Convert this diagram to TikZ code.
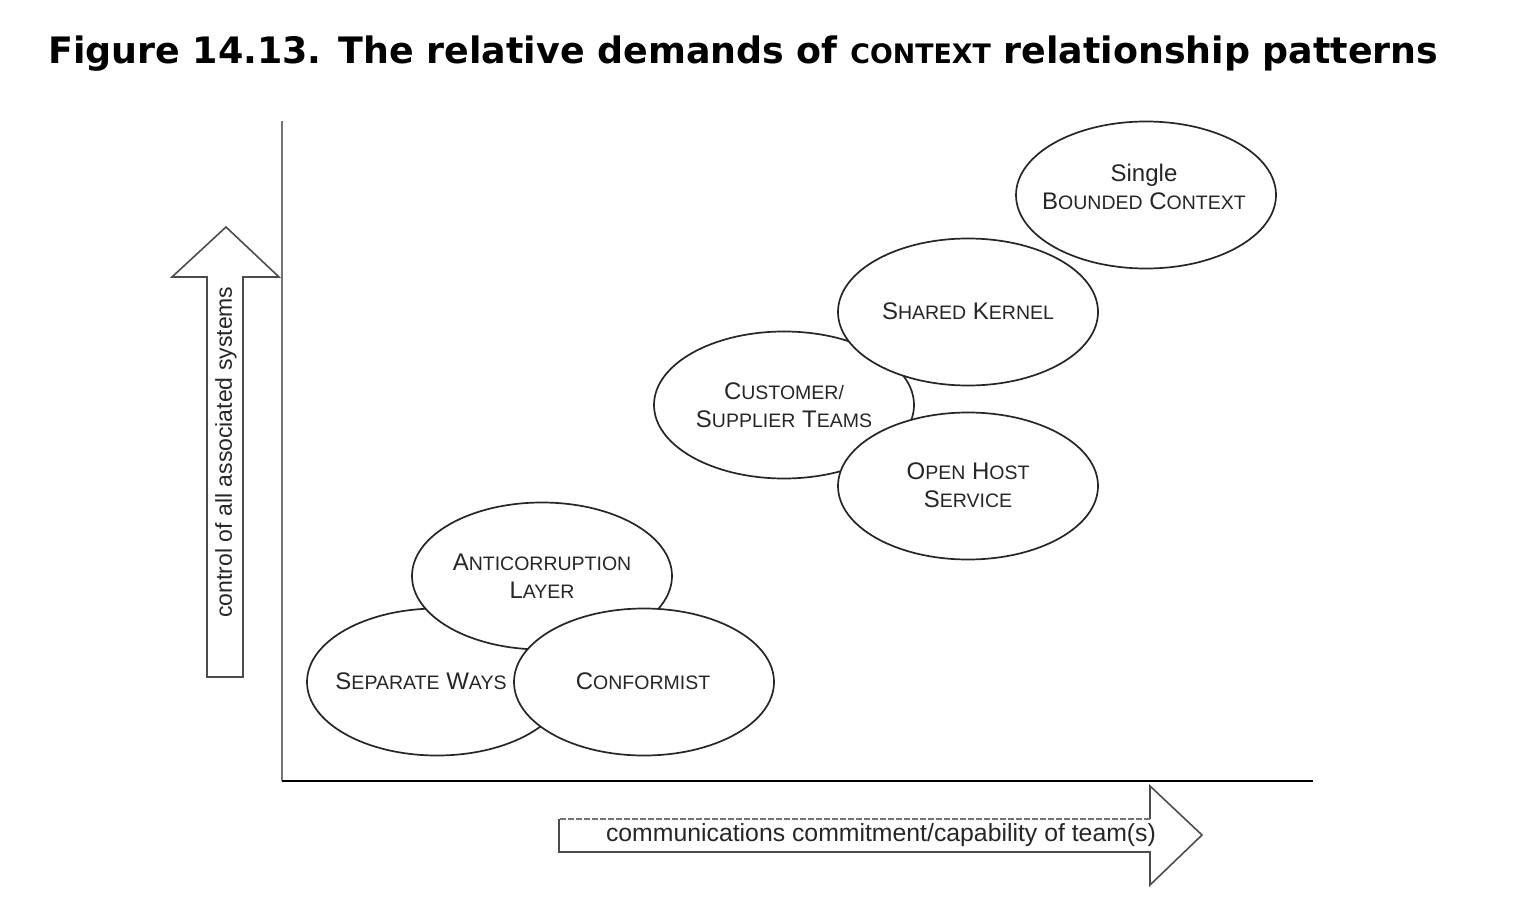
\documentclass[tikz,border=0pt]{standalone}
\usepackage{fontspec}
\setmainfont{Liberation Sans}
\newfontfamily\titlefont{DejaVu Sans}
\usetikzlibrary{shapes.geometric}
\newcommand\mysc[2]{{\fontsize{24}{28}\selectfont #1}{\fontsize{19.5}{28}\selectfont #2}}
\tikzset{
  ell/.style={ellipse, draw=black!85, line width=1.7pt, fill=white,
    minimum width=260pt, minimum height=147pt, inner sep=0pt},
  lbl/.style={align=center, inner sep=0pt, text=black!85,
    font=\fontsize{24}{28}\selectfont},
  axlbl/.style={inner sep=0pt, text=black!85},
  blockarrow/.style={draw=black!70, line width=1.6pt, line join=miter},
}
\begin{document}
\begin{tikzpicture}[x=1pt,y=-1pt]
\useasboundingbox (0,0) rectangle (1537,915);
% title
\node[anchor=base west, inner sep=0pt, font=\titlefont\bfseries\fontsize{36.4}{40}\selectfont] (title) at (48,64)
  {Figure 14.13. The relative demands of {\fontsize{26.8}{40}\selectfont CONTEXT} relationship patterns};
% axes
\coordinate (origin) at (282,781);
\coordinate (ytop) at (282,121);
\coordinate (xend) at (1313,781);
\draw[black!55, line width=2.8pt] (ytop) -- (origin);
\draw[black, line width=2.4pt] (origin) -- (xend);
% up arrow
\draw[blockarrow] (207,677) -- (207,277) -- (172,277) -- (226,227) -- (279,277) -- (243,277) -- (243,677) -- cycle;
\node[axlbl, rotate=90, font=\fontsize{23}{26}\selectfont] (ylab) at (226,452) {control of all associated systems};
% right arrow
\draw[blockarrow] (559,819) -- (559,852) -- (1150,852) -- (1150,885) -- (1202,835) -- (1150,786) -- (1150,819);
\draw[blockarrow, black!55, dash pattern=on 6pt off 2pt] (1150,819) -- (559,819);
\node[axlbl, font=\fontsize{24.8}{28}\selectfont] (xlab) at (881,835) {communications commitment/capability of team(s)};
% lower group
\node[ell] (sw) at (437,682) {};
\node[lbl] (swt) at (421,681) {\mysc{S}{EPARATE} \mysc{W}{AYS}};
\node[ell] (acl) at (542,576) {};
\node[lbl] (aclt) at (542,576) {\mysc{A}{NTICORRUPTION}\\\mysc{L}{AYER}};
\node[ell] (conf) at (644,682) {};
\node[lbl] (conft) at (643,681) {\mysc{C}{ONFORMIST}};
% upper group
\node[ell] (cs) at (784,405) {};
\node[lbl] (cst) at (784,405) {\mysc{C}{USTOMER/}\\\mysc{S}{UPPLIER} \mysc{T}{EAMS}};
\node[ell] (sk) at (968,312) {};
\node[lbl] (skt) at (968,311) {\mysc{S}{HARED} \mysc{K}{ERNEL}};
\node[ell] (ohs) at (968,486) {};
\node[lbl] (ohst) at (968,485) {\mysc{O}{PEN} \mysc{H}{OST}\\\mysc{S}{ERVICE}};
\node[ell] (sbc) at (1146,195) {};
\node[lbl] (sbct) at (1144,187) {Single\\\mysc{B}{OUNDED} \mysc{C}{ONTEXT}};
\end{tikzpicture}
\end{document}
